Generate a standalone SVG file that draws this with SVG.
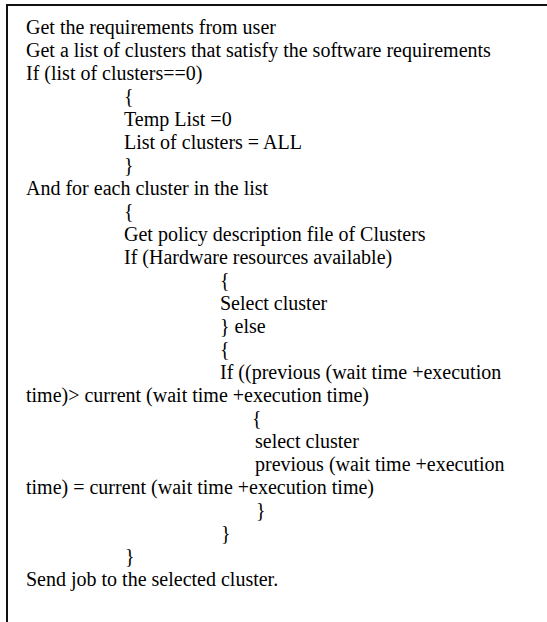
<svg xmlns="http://www.w3.org/2000/svg" width="547" height="622" viewBox="0 0 547 622">
<style>
text { font-family: "Liberation Serif", "Times New Roman", serif; font-size: 20px; fill: #000; }
.frame { fill: #fff; stroke: #111; stroke-width: 2; }
</style>
<rect x="0" y="0" width="547" height="622" fill="#fff"/>
<g id="box">
<rect class="frame" x="7" y="5" width="600" height="700"/>
</g>
<g id="code">
<text x="26" y="34">Get the requirements from user</text>
<text x="26" y="57">Get a list of clusters that satisfy the software requirements</text>
<text x="26" y="80">If (list of clusters==0)</text>
<text x="124" y="103">{</text>
<text x="124" y="126">Temp List =0</text>
<text x="124" y="149">List of clusters = ALL</text>
<text x="124" y="172">}</text>
<text x="26" y="195">And for each cluster in the list</text>
<text x="124" y="218">{</text>
<text x="124" y="241">Get policy description file of Clusters</text>
<text x="124" y="264">If (Hardware resources available)</text>
<text x="220" y="287">{</text>
<text x="220" y="310">Select cluster</text>
<text x="220" y="333">} else</text>
<text x="220" y="356">{</text>
<text x="220" y="379">If ((previous (wait time +execution</text>
<text x="26" y="402">time)&gt; current (wait time +execution time)</text>
<text x="252" y="425">{</text>
<text x="255" y="448">select cluster</text>
<text x="255" y="471">previous (wait time +execution</text>
<text x="26" y="494">time) = current (wait time +execution time)</text>
<text x="256" y="517">}</text>
<text x="221" y="540">}</text>
<text x="125" y="563">}</text>
<text x="26" y="586">Send job to the selected cluster.</text>
</g>
</svg>
